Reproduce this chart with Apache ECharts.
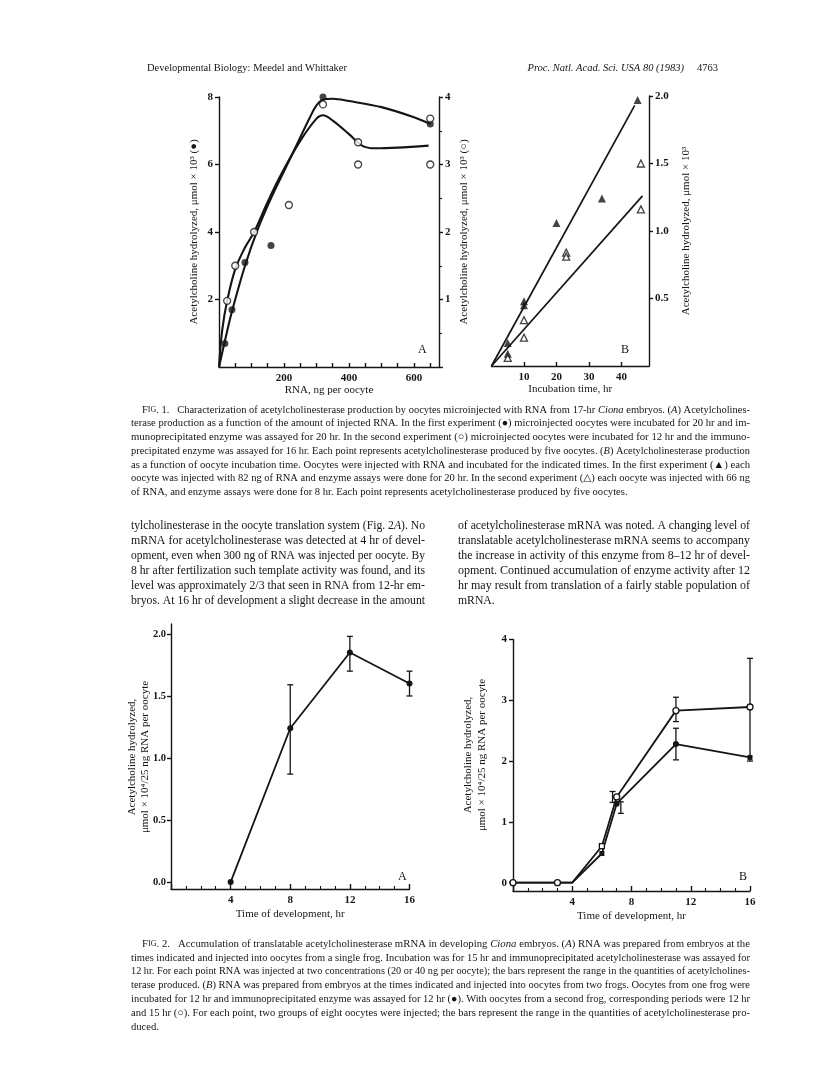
<!DOCTYPE html>
<html>
<head>
<meta charset="utf-8">
<script src="https://cdn.jsdelivr.net/npm/echarts@6/dist/echarts.min.js"></script>
<style>
  html, body { margin: 0; padding: 0; background: #fff; }
  #chart { width: 816px; height: 1071px; }
</style>
</head>
<body>
<div id="chart"></div>
<script>
// ---- Fig. 1A: activity vs amount of injected RNA (ng per oocyte)
const rnaFilled = [[18, 0.7], [40, 1.7], [80, 3.1], [160, 3.6], [320, 8.0], [650, 7.2]];
const rnaOpen = [[25, 0.98], [50, 1.5], [108, 2.0], [215, 2.4], [320, 3.89], [428, 3.33], [428, 3.0], [650, 3.68], [650, 3.0]];
const rnaFilledCurve = [[0, 0], [20, 0.85], [40, 1.65], [80, 3.0], [120, 4.1], [160, 5.0], [200, 5.8], [240, 6.6], [280, 7.4], [300, 7.75], [320, 7.92], [350, 7.95], [400, 7.88], [500, 7.7], [600, 7.4], [650, 7.2]];
const rnaOpenCurve = [[0, 0], [10, 0.55], [25, 0.98], [50, 1.45], [80, 1.77], [108, 2.0], [150, 2.45], [193, 2.87], [250, 3.35], [300, 3.68], [320, 3.73], [350, 3.65], [400, 3.45], [440, 3.28], [480, 3.24], [550, 3.25], [645, 3.28]];
const rnaLabels = [200, 400, 600];
const rnaTicks = [50, 100, 150, 200, 250, 300, 350, 400, 450, 500, 550, 600, 650];

// ---- Fig. 1B: activity vs incubation time (hr)
const incFilled = [[5, 0.17], [5, 0.09], [10, 0.48], [10, 0.45], [20, 1.06], [34, 1.24], [45, 1.97]];
const incOpen = [[5, 0.06], [10, 0.34], [10, 0.21], [23, 0.84], [23, 0.81], [46, 1.5], [46, 1.16]];
const incFilledFit = [[0, 0], [44.1, 1.93]];
const incOpenFit = [[0, 0], [46.5, 1.26]];
const incLabels = [10, 20, 30, 40];

// ---- Fig. 2A: time of development (hr), single frog
const devA = [[4, 0], [8, 1.24], [12, 1.85], [16, 1.6]];
const devAErr = [[8, 0.87, 1.59], [12, 1.70, 1.98], [16, 1.50, 1.70]];
const devALabels = [0, 0.5, 1.0, 1.5, 2.0];

// ---- Fig. 2B: two frogs
const devBFilled = [[0, 0], [3, 0], [4, 0], [6, 0.48], [7, 1.3], [11, 2.28], [16, 2.06]];
const devBOpen = [[0, 0], [3, 0], [4, 0], [6, 0.6], [7, 1.41], [11, 2.83], [16, 2.89]];
const devBFilledErr = [[7.28, 1.14, 1.33], [11, 2.02, 2.54]];
const devBOpenErr = [[6.72, 1.32, 1.50], [11, 2.65, 3.05], [16, 2.0, 3.69]];
const devBLabels = [0, 1, 2, 3, 4];

// marker shapes for 2B points (style, kept apart from values)
const devBFilledMark = ['circle', 'circle', 'none', 'rect', 'circle', 'circle', 'rect'];
const devBOpenMark = ['circle', 'circle', 'none', 'rect', 'circle', 'circle', 'circle'];

// ---- page text
const headLeft = 'Developmental Biology: Meedel and Whittaker';
const headRight = 'Proc. Natl. Acad. Sci. USA 80 (1983)';
const pageNo = '4763';
const fig2YName = 'Acetylcholine hydrolyzed,\nμmol × 10⁴/25 ng RNA per oocyte';
const fig1Caption = [
  'F{sc|IG}. 1.   Characterization of acetylcholinesterase production by oocytes microinjected with RNA from 17-hr {i|Ciona} embryos. ({i|A}) Acetylcholines-',
  'terase production as a function of the amount of injected RNA. In the first experiment (●) microinjected oocytes were incubated for 20 hr and im-',
  'munoprecipitated enzyme was assayed for 20 hr. In the second experiment (○) microinjected oocytes were incubated for 12 hr and the immuno-',
  'precipitated enzyme was assayed for 16 hr. Each point represents acetylcholinesterase produced by five oocytes. ({i|B}) Acetylcholinesterase production',
  'as a function of oocyte incubation time. Oocytes were injected with RNA and incubated for the indicated times. In the first experiment (▲) each',
  'oocyte was injected with 82 ng of RNA and enzyme assays were done for 20 hr. In the second experiment (△) each oocyte was injected with 66 ng',
  'of RNA, and enzyme assays were done for 8 hr. Each point represents acetylcholinesterase produced by five oocytes.'
];
const bodyLeft = [
  'tylcholinesterase in the oocyte translation system (Fig. 2{i|A}). No',
  'mRNA for acetylcholinesterase was detected at 4 hr of devel-',
  'opment, even when 300 ng of RNA was injected per oocyte. By',
  '8 hr after fertilization such template activity was found, and its',
  'level was approximately 2/3 that seen in RNA from 12-hr em-',
  'bryos. At 16 hr of development a slight decrease in the amount'
];
const bodyRight = [
  'of acetylcholinesterase mRNA was noted. A changing level of',
  'translatable acetylcholinesterase mRNA seems to accompany',
  'the increase in activity of this enzyme from 8–12 hr of devel-',
  'opment. Continued accumulation of enzyme activity after 12',
  'hr may result from translation of a fairly stable population of',
  'mRNA.'
];
const fig2Caption = [
  'F{sc|IG}. 2.   Accumulation of translatable acetylcholinesterase mRNA in developing {i|Ciona} embryos. ({i|A}) RNA was prepared from embryos at the',
  'times indicated and injected into oocytes from a single frog. Incubation was for 15 hr and immunoprecipitated acetylcholinesterase was assayed for',
  '12 hr. For each point RNA was injected at two concentrations (20 or 40 ng per oocyte); the bars represent the range in the quantities of acetylcholines-',
  'terase produced. ({i|B}) RNA was prepared from embryos at the times indicated and injected into oocytes from two frogs. Oocytes from one frog were',
  'incubated for 12 hr and immunoprecipitated enzyme was assayed for 12 hr (●). With oocytes from a second frog, corresponding periods were 12 hr',
  'and 15 hr (○). For each point, two groups of eight oocytes were injected; the bars represent the range in the quantities of acetylcholinesterase pro-',
  'duced.'
];

const FONT = '"Liberation Serif", "DejaVu Serif", serif';
const INK = '#151515';

const lineStyle = { color: INK, width: 1.4 };
const labelStyle = { color: INK, fontFamily: FONT, fontSize: 11, fontWeight: 'bold' };
const nameStyle = { color: INK, fontFamily: FONT, fontSize: 11 };

function axis(o) {
  return Object.assign({
    type: 'value',
    nameLocation: 'middle',
    nameTextStyle: nameStyle,
    axisLine: { show: true, onZero: false, lineStyle },
    splitLine: { show: false }
  }, o);
}

function errorBars(xi, yi, data) {
  return {
    type: 'custom', xAxisIndex: xi, yAxisIndex: yi, data, z: 3,
    renderItem: (params, api) => {
      const x = api.value(0);
      const top = api.coord([x, api.value(2)]);
      const bot = api.coord([x, api.value(1)]);
      const st = { stroke: INK, lineWidth: 1.3 };
      return {
        type: 'group', children: [
          { type: 'line', shape: { x1: top[0], y1: top[1], x2: bot[0], y2: bot[1] }, style: st },
          { type: 'line', shape: { x1: top[0] - 3, y1: top[1], x2: top[0] + 3, y2: top[1] }, style: st },
          { type: 'line', shape: { x1: bot[0] - 3, y1: bot[1], x2: bot[0] + 3, y2: bot[1] }, style: st }
        ]
      };
    }
  };
}

const filledDot = { color: INK };
const openDot = { color: '#fff', borderColor: INK, borderWidth: 1.3 };

function text(x, y, str, size, extra, props) {
  return Object.assign({
    type: 'text', x, y, silent: true,
    style: Object.assign({
      text: str, fontFamily: FONT, fontSize: size, fill: INK,
      align: 'left', verticalAlign: 'middle',
      rich: {
        i: { fontFamily: FONT, fontSize: size, fontStyle: 'italic', fill: INK },
        sc: { fontFamily: FONT, fontSize: Math.round(size * 0.78), fill: INK }
      }
    }, extra || {})
  }, props || {});
}

// width of a line of (rich) text, used to justify the page's text lines
const ctx = document.createElement('canvas').getContext('2d');
function measure(str, size) {
  let w = 0;
  str.split(/(\{\w+\|[^}]*\})/).forEach(seg => {
    if (!seg) return;
    const m = seg.match(/^\{(\w+)\|([^}]*)\}$/);
    if (m) {
      ctx.font = (m[1] === 'i' ? 'italic ' : '') + (m[1] === 'sc' ? Math.round(size * 0.78) : size) + 'px ' + FONT;
      w += ctx.measureText(m[2]).width;
    } else {
      ctx.font = size + 'px ' + FONT;
      w += ctx.measureText(seg).width;
    }
  });
  return w;
}

// paragraph: lines laid out from (left, top); all but the last line flush to `right`
function paragraph(lines, left, right, top, step, size, indent, lastJustified) {
  return lines.map((l, i) => {
    const x = left + (i === 0 ? indent : 0);
    const last = i === lines.length - 1 && !lastJustified;
    const w = measure(l, size);
    const sx = last ? 1 : (right - x) / w;
    return text(x, top + i * step, l, size, null, { scaleX: sx });
  });
}

const graphic = [
  text(147, 68, headLeft, 10.5),
  text(684, 68, headRight, 10.5, { fontStyle: 'italic', align: 'right' }),
  text(697, 68, pageNo, 10.5),
  text(418, 350, 'A', 12),
  text(621, 350, 'B', 12),
  text(398, 877, 'A', 12),
  text(739, 877, 'B', 12),
  // Fig. 2 y-axis names (two lines, rotated)
  text(138.5, 757, fig2YName, 11, { align: 'center', lineHeight: 13 }, { rotation: Math.PI / 2 }),
  text(475, 755, fig2YName, 11, { align: 'center', lineHeight: 14 }, { rotation: Math.PI / 2 })
].concat(
  paragraph(fig1Caption, 131, 750, 410, 13.7, 10.6, 11, false),
  paragraph(bodyLeft, 131, 425, 526, 15, 11.7, 0, true),
  paragraph(bodyRight, 458, 750, 526, 15, 11.7, 0, false),
  paragraph(fig2Caption, 131, 750, 944, 13.8, 10.6, 11, false)
);

const chart = echarts.init(document.getElementById('chart'));

const option = {
  backgroundColor: '#fff',
  animation: false,
  grid: [
    { left: 219, top: 97, width: 220, height: 270, outerBoundsMode: 'none' },
    { left: 491.5, top: 96, width: 157.5, height: 270, outerBoundsMode: 'none' },
    { left: 171, top: 624, width: 238.5, height: 265, outerBoundsMode: 'none' },
    { left: 513, top: 639.5, width: 237, height: 251.5, outerBoundsMode: 'none' }
  ],
  xAxis: [
    axis({
      gridIndex: 0, min: 0, max: 677, name: 'RNA, ng per oocyte', nameGap: 18,
      axisTick: { inside: true, length: 4, customValues: rnaTicks, lineStyle },
      axisLabel: Object.assign({ customValues: rnaLabels, margin: 6 }, labelStyle)
    }),
    axis({
      gridIndex: 1, min: 0, max: 48.5, name: 'Incubation time, hr', nameGap: 18,
      axisTick: { inside: true, length: 4, customValues: incLabels, lineStyle },
      axisLabel: Object.assign({ customValues: incLabels, margin: 6 }, labelStyle)
    }),
    axis({
      gridIndex: 2, min: 0, max: 16, interval: 4, name: 'Time of development, hr', nameGap: 20,
      axisTick: { inside: true, length: 5, lineStyle },
      minorTick: { show: true, splitNumber: 4, length: 3, lineStyle: { color: INK, width: 1.1 } },
      axisLabel: Object.assign({ showMinLabel: false, margin: 6 }, labelStyle)
    }),
    axis({
      gridIndex: 3, min: 0, max: 16, interval: 4, name: 'Time of development, hr', nameGap: 20,
      axisTick: { inside: true, length: 5, lineStyle },
      minorTick: { show: true, splitNumber: 4, length: 3, lineStyle: { color: INK, width: 1.1 } },
      axisLabel: Object.assign({ showMinLabel: false, margin: 6 }, labelStyle)
    })
  ],
  yAxis: [
    axis({
      gridIndex: 0, min: 0, max: 8, interval: 2, position: 'left',
      name: 'Acetylcholine hydrolyzed, μmol × 10³ (●)', nameGap: 19,
      axisTick: { length: 4, lineStyle },
      axisLabel: Object.assign({ showMinLabel: false, margin: 6 }, labelStyle)
    }),
    axis({
      gridIndex: 0, min: 0, max: 4, interval: 1, position: 'right',
      name: 'Acetylcholine hydrolyzed, μmol × 10³ (○)', nameGap: 20, nameRotate: 90,
      axisTick: { length: 4, lineStyle },
      minorTick: { show: true, splitNumber: 2, length: 3, lineStyle: { color: INK, width: 1.1 } },
      axisLabel: Object.assign({ showMinLabel: false, margin: 6 }, labelStyle)
    }),
    axis({
      gridIndex: 1, min: 0, max: 2, interval: 0.5, position: 'right',
      name: 'Acetylcholine hydrolyzed, μmol × 10³', nameGap: 32, nameRotate: 90,
      axisTick: { length: 4, lineStyle },
      axisLabel: Object.assign({ showMinLabel: false, margin: 6, formatter: v => v.toFixed(1) }, labelStyle)
    }),
    axis({
      gridIndex: 2, min: -0.056, max: 2.08, position: 'left',
      axisTick: { length: 4, customValues: devALabels, lineStyle },
      axisLabel: Object.assign({ customValues: devALabels, margin: 5, formatter: v => v.toFixed(1) }, labelStyle, { fontSize: 10.5 })
    }),
    axis({
      gridIndex: 3, min: -0.137, max: 4, position: 'left',
      axisTick: { length: 4, customValues: devBLabels, lineStyle },
      axisLabel: Object.assign({ customValues: devBLabels, margin: 6 }, labelStyle)
    })
  ],
  series: [
    // Fig 1A
    { type: 'line', xAxisIndex: 0, yAxisIndex: 0, data: rnaFilledCurve, smooth: 0.35, symbol: 'none', lineStyle: { color: INK, width: 2.1 }, z: 2 },
    { type: 'line', xAxisIndex: 0, yAxisIndex: 1, data: rnaOpenCurve, smooth: 0.35, symbol: 'none', lineStyle: { color: INK, width: 2.1 }, z: 2 },
    { type: 'scatter', xAxisIndex: 0, yAxisIndex: 0, data: rnaFilled, symbol: 'circle', symbolSize: 7, itemStyle: filledDot, z: 4 },
    { type: 'scatter', xAxisIndex: 0, yAxisIndex: 1, data: rnaOpen, symbol: 'circle', symbolSize: 7, itemStyle: openDot, z: 4 },
    // Fig 1B
    { type: 'line', xAxisIndex: 1, yAxisIndex: 2, data: incFilledFit, symbol: 'none', lineStyle: { color: INK, width: 1.7 }, z: 2 },
    { type: 'line', xAxisIndex: 1, yAxisIndex: 2, data: incOpenFit, symbol: 'none', lineStyle: { color: INK, width: 1.7 }, z: 2 },
    { type: 'scatter', xAxisIndex: 1, yAxisIndex: 2, data: incFilled, symbol: 'triangle', symbolSize: 8, itemStyle: filledDot, z: 4 },
    { type: 'scatter', xAxisIndex: 1, yAxisIndex: 2, data: incOpen, symbol: 'triangle', symbolSize: 7, itemStyle: openDot, z: 4 },
    // Fig 2A
    errorBars(2, 3, devAErr),
    { type: 'line', xAxisIndex: 2, yAxisIndex: 3, data: devA, symbol: 'circle', symbolSize: 6, showAllSymbol: true, itemStyle: filledDot, lineStyle: { color: INK, width: 1.8 }, z: 4 },
    // Fig 2B
    errorBars(3, 4, devBFilledErr),
    errorBars(3, 4, devBOpenErr),
    {
      type: 'line', xAxisIndex: 3, yAxisIndex: 4, data: devBFilled, showAllSymbol: true,
      symbol: (v, p) => devBFilledMark[p.dataIndex], symbolSize: (v, p) => devBFilledMark[p.dataIndex] === 'rect' ? 5 : 6,
      itemStyle: filledDot, lineStyle: { color: INK, width: 1.8 }, z: 4
    },
    {
      type: 'line', xAxisIndex: 3, yAxisIndex: 4, data: devBOpen, showAllSymbol: true,
      symbol: (v, p) => devBOpenMark[p.dataIndex], symbolSize: (v, p) => devBOpenMark[p.dataIndex] === 'rect' ? 5 : 6,
      itemStyle: openDot, lineStyle: { color: INK, width: 1.8 }, z: 5
    }
  ],
  graphic
};

chart.setOption(option, true);
</script>
</body>
</html>
